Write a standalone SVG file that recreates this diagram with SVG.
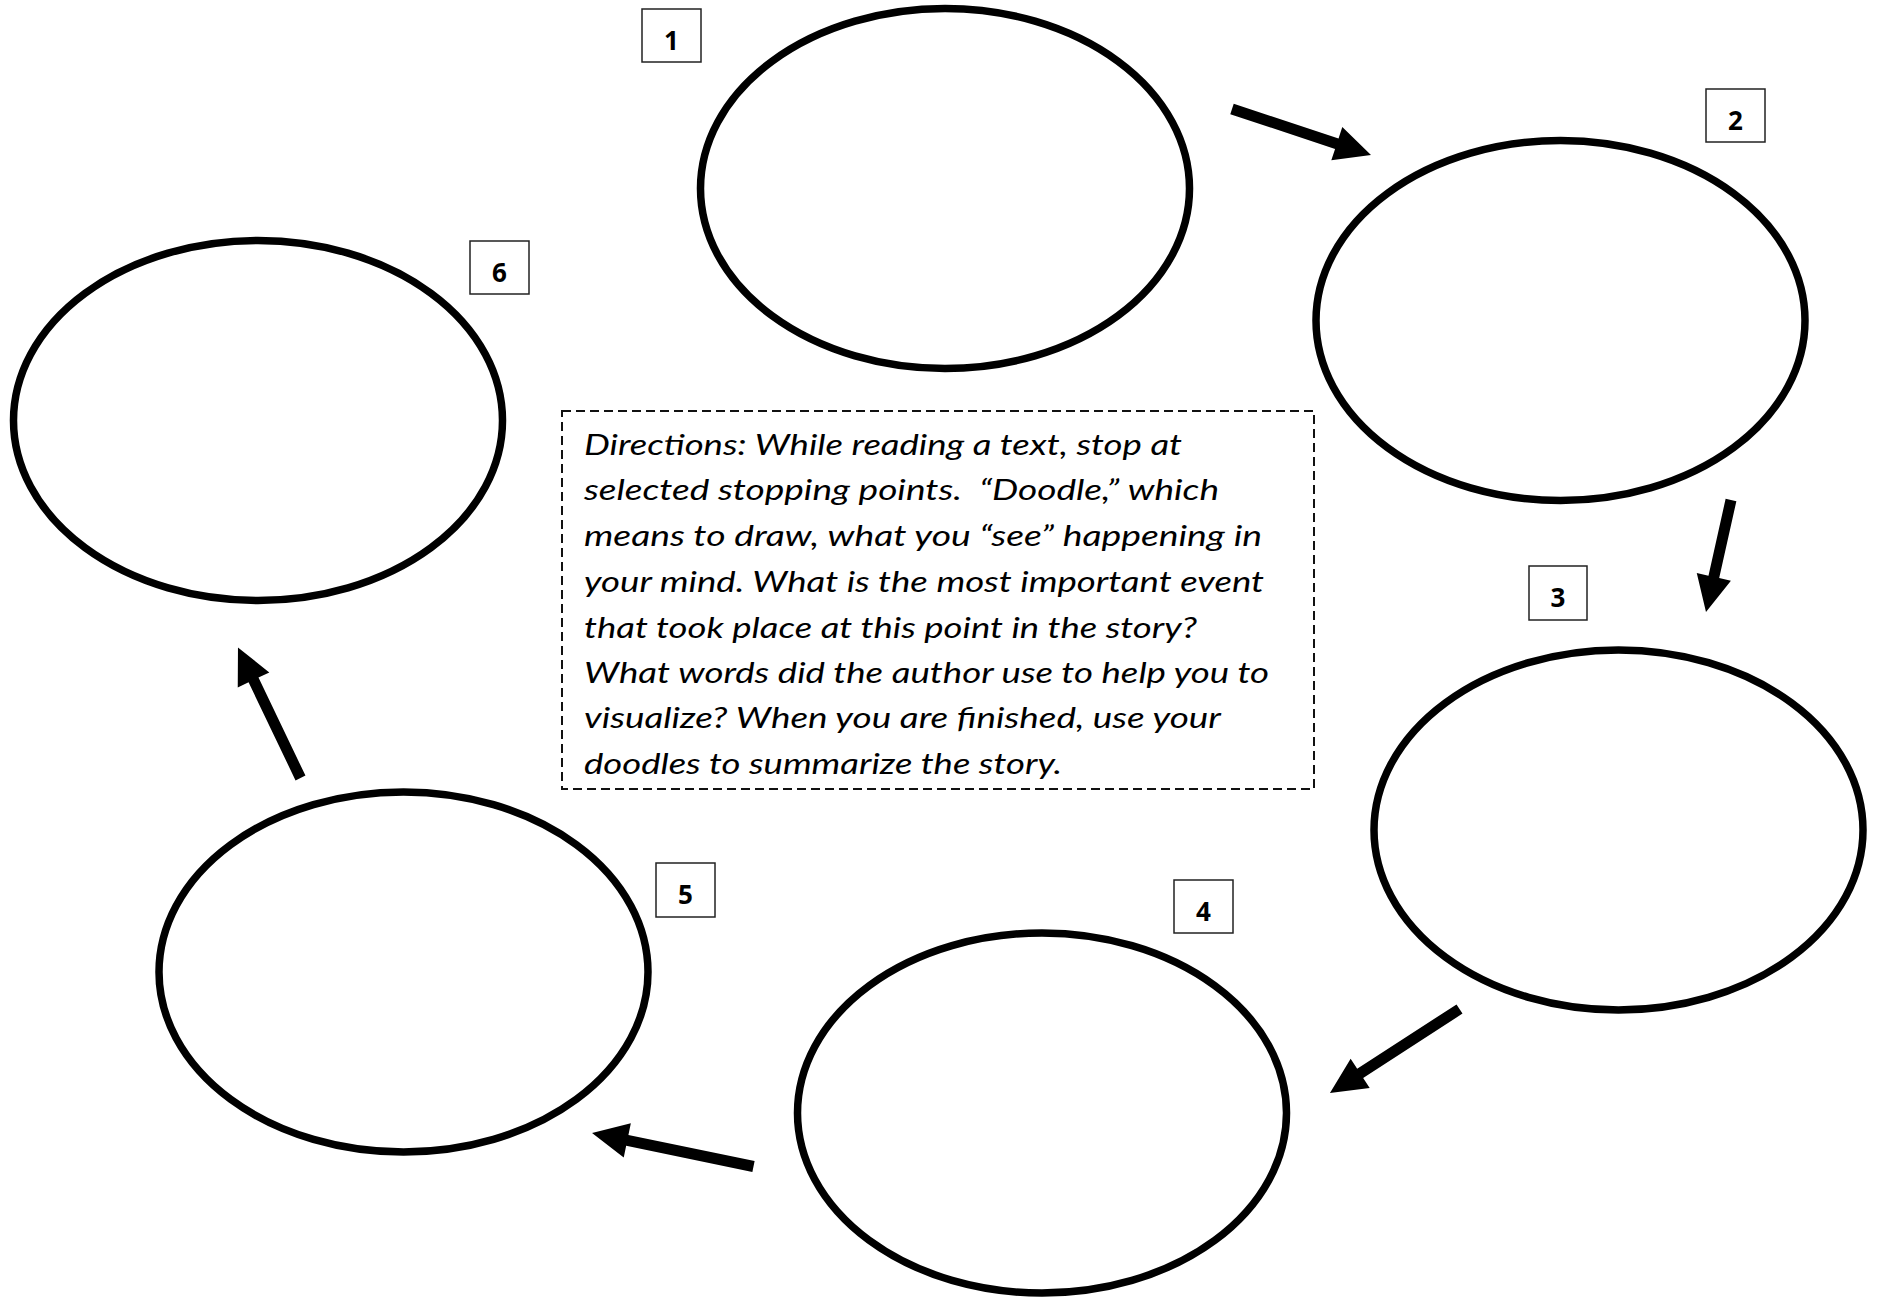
<svg xmlns="http://www.w3.org/2000/svg" width="1877" height="1298" viewBox="0 0 1877 1298">
<style>
.oval{fill:#fff;stroke:#000;stroke-width:7.5}
.lbl{fill:#fff;stroke:#222;stroke-width:1.5}
.num{font-family:"Noto Sans","Open Sans",sans-serif;font-weight:bold;font-size:26px;fill:#000;text-anchor:middle}
.arrow{fill:#000;stroke:none}
.dir{font-family:"Lato","Open Sans",sans-serif;font-style:italic;font-size:28px;fill:#000}
.box{fill:#fff;stroke:#111;stroke-width:2;stroke-dasharray:9,5}
</style>
<rect width="1877" height="1298" fill="#fff"/>
<g id="node1"><ellipse class="oval" cx="945" cy="188.5" rx="244.5" ry="180"/><rect class="lbl" x="642" y="9" width="59" height="53"/><text class="num" x="671.5" y="50">1</text></g>
<g id="node2"><ellipse class="oval" cx="1560.5" cy="320.5" rx="244.5" ry="180"/><rect class="lbl" x="1706" y="89" width="59" height="53"/><text class="num" x="1735.5" y="130">2</text></g>
<g id="node3"><ellipse class="oval" cx="1618.5" cy="830" rx="244.5" ry="180"/><rect class="lbl" x="1529" y="566" width="58" height="54"/><text class="num" x="1558" y="607">3</text></g>
<g id="node4"><ellipse class="oval" cx="1042" cy="1113" rx="244.5" ry="180"/><rect class="lbl" x="1174" y="880" width="59" height="53"/><text class="num" x="1203.5" y="921">4</text></g>
<g id="node5"><ellipse class="oval" cx="403.5" cy="972" rx="244.5" ry="180"/><rect class="lbl" x="656" y="863" width="59" height="54"/><text class="num" x="685.5" y="904">5</text></g>
<g id="node6"><ellipse class="oval" cx="258" cy="420.5" rx="244.5" ry="180"/><rect class="lbl" x="470" y="241" width="59" height="53"/><text class="num" x="499.5" y="282">6</text></g>
<g id="directions">
<rect class="box" x="562" y="411" width="752" height="378"/>
<text class="dir" x="584" y="455" textLength="598" lengthAdjust="spacingAndGlyphs">Directions: While reading a text, stop at</text>
<text class="dir" x="584" y="500" textLength="635" lengthAdjust="spacingAndGlyphs" style="white-space:pre">selected stopping points.  “Doodle,” which</text>
<text class="dir" x="584" y="546" textLength="678" lengthAdjust="spacingAndGlyphs">means to draw, what you “see” happening in</text>
<text class="dir" x="584" y="592" textLength="680" lengthAdjust="spacingAndGlyphs">your mind. What is the most important event</text>
<text class="dir" x="584" y="638" textLength="613" lengthAdjust="spacingAndGlyphs">that took place at this point in the story?</text>
<text class="dir" x="584" y="683" textLength="685" lengthAdjust="spacingAndGlyphs">What words did the author use to help you to</text>
<text class="dir" x="584" y="728" textLength="637" lengthAdjust="spacingAndGlyphs">visualize? When you are finished, use your</text>
<text class="dir" x="584" y="774" textLength="478" lengthAdjust="spacingAndGlyphs">doodles to summarize the story.</text>
</g>
<g id="connectors">
<path class="arrow" transform="translate(1232,109) rotate(18.31)" d="M0,-5.5 L110.4,-5.5 L110.4,-17.5 L146.4,0 L110.4,17.5 L110.4,5.5 L0,5.5 Z"/>
<path class="arrow" transform="translate(1731,500) rotate(102.58)" d="M0,-5.5 L78.8,-5.5 L78.8,-17.5 L114.8,0 L78.8,17.5 L78.8,5.5 L0,5.5 Z"/>
<path class="arrow" transform="translate(1459.5,1009) rotate(147.03)" d="M0,-5.5 L118.4,-5.5 L118.4,-17.5 L154.4,0 L118.4,17.5 L118.4,5.5 L0,5.5 Z"/>
<path class="arrow" transform="translate(753.5,1166.5) rotate(191.72)" d="M0,-5.5 L128.9,-5.5 L128.9,-17.5 L164.9,0 L128.9,17.5 L128.9,5.5 L0,5.5 Z"/>
<path class="arrow" transform="translate(300.5,778) rotate(-115.6)" d="M0,-5.5 L108.7,-5.5 L108.7,-17.5 L144.7,0 L108.7,17.5 L108.7,5.5 L0,5.5 Z"/>
</g>
</svg>
